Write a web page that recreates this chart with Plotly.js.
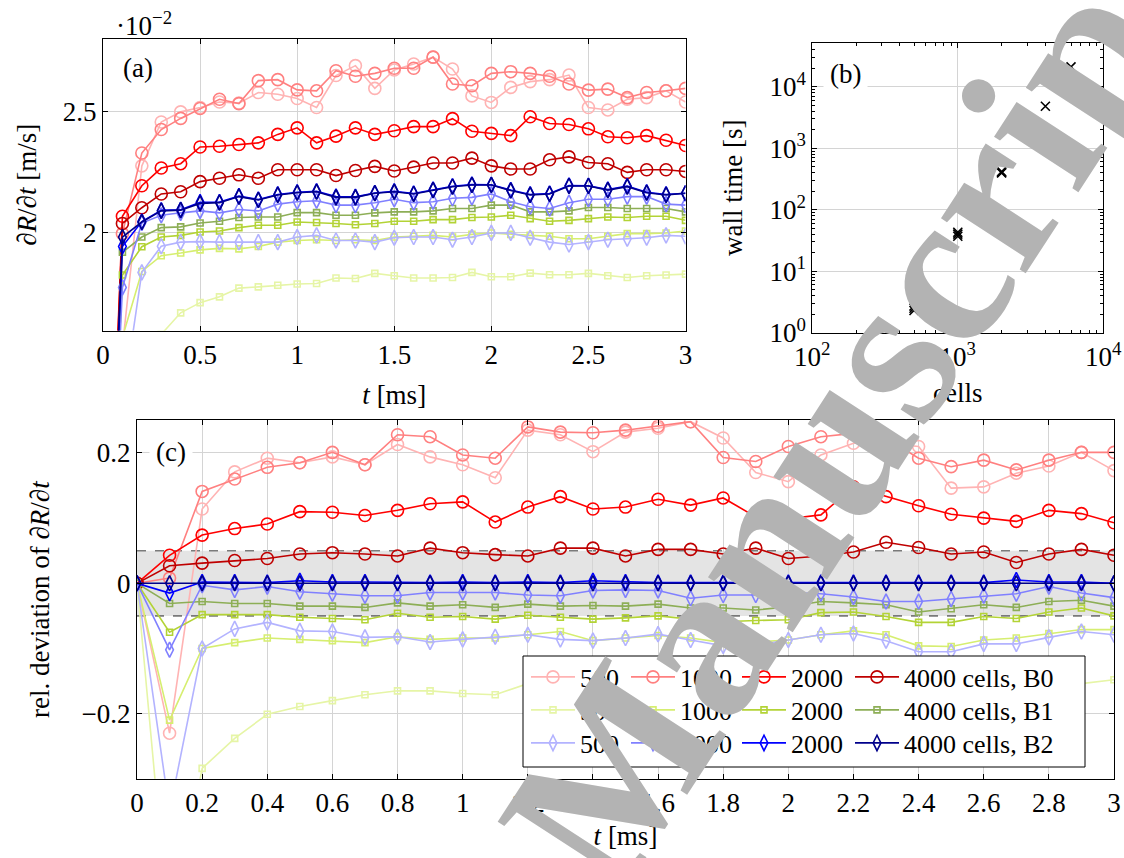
<!DOCTYPE html>
<html><head><meta charset="utf-8">
<script src="https://cdn.plot.ly/plotly-3.0.1.min.js"></script>
<style>html,body{margin:0;padding:0;background:#fff;}#chart{width:1124px;height:858px;}</style>
</head><body><div id="chart"></div>
<script>
// ---------- data ----------
const t = [0,0.1,0.2,0.3,0.4,0.5,0.6,0.7,0.8,0.9,1.0,1.1,1.2,1.3,1.4,1.5,1.6,1.7,1.8,1.9,2.0,2.1,2.2,2.3,2.4,2.5,2.6,2.7,2.8,2.9,3.0];

// panel (a): dR/dt in units of 1e-2 m/s
const B0_500_a  = [0,1.527,2.276,2.457,2.499,2.517,2.540,2.535,2.579,2.572,2.554,2.517,2.649,2.690,2.596,2.672,2.697,2.725,2.676,2.565,2.538,2.600,2.624,2.632,2.651,2.517,2.507,2.551,2.558,2.586,2.540];
const B0_1000_a = [0,1.996,2.329,2.426,2.472,2.513,2.551,2.533,2.628,2.632,2.590,2.586,2.669,2.646,2.658,2.679,2.679,2.725,2.614,2.607,2.658,2.665,2.658,2.646,2.614,2.589,2.593,2.558,2.579,2.586,2.596];
const B0_2000_a = [0,2.068,2.194,2.267,2.285,2.354,2.357,2.364,2.371,2.406,2.433,2.371,2.399,2.433,2.406,2.421,2.438,2.438,2.471,2.419,2.410,2.401,2.479,2.451,2.447,2.429,2.396,2.392,2.401,2.382,2.360];
const B0_4000_a = [0,2.038,2.103,2.160,2.169,2.211,2.225,2.239,2.225,2.260,2.260,2.260,2.236,2.257,2.274,2.255,2.271,2.288,2.288,2.308,2.276,2.263,2.263,2.301,2.313,2.290,2.285,2.249,2.260,2.260,2.253];
const B1_500_a  = [0,0.900,1.460,1.580,1.669,1.711,1.735,1.771,1.776,1.783,1.788,1.790,1.813,1.811,1.832,1.822,1.813,1.813,1.815,1.836,1.818,1.818,1.833,1.826,1.826,1.832,1.822,1.815,1.822,1.825,1.829];
const B1_1000_a = [0,1.567,1.840,1.905,1.916,1.929,1.935,1.933,1.943,1.961,1.968,1.971,1.968,1.971,1.968,1.982,1.985,1.989,1.982,1.993,1.999,1.993,1.989,1.985,1.975,1.975,1.985,1.996,1.996,1.999,2.007];
const B1_2000_a = [0,1.825,1.942,1.982,1.989,2.003,2.007,2.021,2.031,2.031,2.044,2.042,2.038,2.033,2.038,2.047,2.047,2.054,2.054,2.063,2.065,2.072,2.058,2.047,2.051,2.058,2.065,2.063,2.068,2.068,2.051];
const B1_4000_a = [0,1.919,1.982,2.021,2.024,2.040,2.047,2.063,2.065,2.065,2.083,2.083,2.072,2.072,2.082,2.086,2.086,2.090,2.100,2.100,2.114,2.114,2.086,2.086,2.090,2.104,2.104,2.100,2.100,2.100,2.086];
const B2_500_a  = [0,1.290,1.836,1.944,1.961,1.963,1.961,1.961,1.961,1.961,1.982,1.989,1.968,1.968,1.961,1.979,1.982,1.982,1.971,1.982,1.999,1.999,1.979,1.961,1.951,1.961,1.971,1.975,1.979,1.989,1.985];
const B2_1000_a = [0,1.774,2.040,2.072,2.082,2.090,2.082,2.096,2.090,2.118,2.128,2.132,2.114,2.114,2.124,2.138,2.124,2.128,2.142,2.146,2.160,2.128,2.107,2.100,2.124,2.138,2.138,2.149,2.149,2.118,2.114];
const B2_2000_a = [0,1.943,2.046,2.092,2.095,2.126,2.127,2.151,2.137,2.158,2.167,2.171,2.149,2.148,2.164,2.171,2.162,2.178,2.192,2.199,2.198,2.176,2.158,2.162,2.195,2.194,2.178,2.193,2.167,2.158,2.163];
const B2_4000_a = [0,1.982,2.044,2.090,2.093,2.121,2.124,2.149,2.135,2.156,2.165,2.169,2.146,2.146,2.163,2.169,2.160,2.176,2.190,2.197,2.197,2.174,2.156,2.160,2.193,2.193,2.176,2.190,2.165,2.156,2.163];

// panel (c): relative deviation
const B0_500_c  = [0,-0.230,0.114,0.171,0.192,0.185,0.194,0.182,0.213,0.194,0.182,0.162,0.235,0.228,0.202,0.232,0.238,0.248,0.223,0.170,0.156,0.197,0.215,0.215,0.210,0.146,0.148,0.169,0.180,0.201,0.173];
const B0_1000_c = [0,0.008,0.141,0.160,0.178,0.185,0.201,0.182,0.228,0.225,0.197,0.192,0.240,0.232,0.231,0.235,0.241,0.248,0.193,0.187,0.210,0.225,0.230,0.223,0.192,0.179,0.189,0.174,0.189,0.201,0.201];
const B0_2000_c = [0,0.043,0.074,0.084,0.091,0.110,0.109,0.104,0.112,0.122,0.125,0.094,0.117,0.133,0.114,0.117,0.129,0.120,0.131,0.102,0.099,0.105,0.148,0.133,0.119,0.106,0.100,0.095,0.112,0.107,0.093];
const B0_4000_c = [0,0.027,0.031,0.035,0.038,0.045,0.047,0.045,0.042,0.054,0.047,0.044,0.042,0.054,0.054,0.042,0.052,0.052,0.045,0.054,0.038,0.042,0.048,0.063,0.055,0.045,0.048,0.032,0.045,0.052,0.043];
const B1_500_c  = [0,-0.545,-0.284,-0.238,-0.201,-0.189,-0.180,-0.171,-0.165,-0.165,-0.169,-0.171,-0.154,-0.156,-0.153,-0.160,-0.161,-0.167,-0.171,-0.164,-0.173,-0.164,-0.150,-0.155,-0.167,-0.165,-0.163,-0.171,-0.158,-0.154,-0.148];
const B1_1000_c = [0,-0.210,-0.100,-0.091,-0.084,-0.086,-0.088,-0.091,-0.082,-0.086,-0.084,-0.084,-0.079,-0.074,-0.088,-0.084,-0.080,-0.084,-0.091,-0.090,-0.087,-0.079,-0.073,-0.079,-0.096,-0.097,-0.087,-0.084,-0.077,-0.071,-0.071];
const B1_2000_c = [0,-0.075,-0.048,-0.048,-0.048,-0.052,-0.054,-0.056,-0.046,-0.052,-0.051,-0.055,-0.049,-0.052,-0.055,-0.053,-0.050,-0.055,-0.059,-0.057,-0.056,-0.045,-0.044,-0.051,-0.060,-0.060,-0.051,-0.054,-0.044,-0.038,-0.050];
const B1_4000_c = [0,-0.031,-0.028,-0.031,-0.031,-0.035,-0.035,-0.037,-0.030,-0.035,-0.033,-0.037,-0.032,-0.035,-0.034,-0.035,-0.032,-0.038,-0.038,-0.041,-0.036,-0.028,-0.030,-0.033,-0.044,-0.039,-0.033,-0.037,-0.028,-0.026,-0.035];
const B2_500_c  = [0,-0.350,-0.100,-0.070,-0.060,-0.073,-0.074,-0.083,-0.082,-0.090,-0.086,-0.082,-0.079,-0.086,-0.088,-0.084,-0.078,-0.087,-0.096,-0.095,-0.087,-0.079,-0.077,-0.088,-0.105,-0.105,-0.093,-0.093,-0.083,-0.074,-0.079];
const B2_1000_c = [0,-0.102,-0.003,-0.010,-0.005,-0.013,-0.016,-0.019,-0.019,-0.014,-0.014,-0.014,-0.018,-0.019,-0.011,-0.010,-0.011,-0.023,-0.018,-0.018,-0.014,-0.016,-0.021,-0.028,-0.028,-0.024,-0.019,-0.016,-0.005,-0.015,-0.022];
const B2_2000_c = [0,-0.015,0.002,0.002,0.001,0.004,0.002,0.002,0.001,0.001,0.002,0.001,0.002,0.001,0.004,0.002,0.001,0.001,0.001,0.001,0.001,0.001,0.001,0.001,0.001,0.001,0.001,0.005,0.002,0.002,0.000];
const B2_4000_c = [0,0,0,0,0,0,0,0,0,0,0,0,0,0,0,0,0,0,0,0,0,0,0,0,0,0,0,0,0,0,0];

// panel (b): wall time vs cells
const cells    = [500,500,500,1000,1000,1000,2000,2000,2000,4000,6000];
const wallTime = [2.3,2.5,2.7,37,40,43,395,405,415,4800,21000];

// tick labels
const aXticks = [0,0.5,1,1.5,2,2.5,3];
const aXtext  = ['0','0.5','1','1.5','2','2.5','3'];
const aYticks = [2,2.5];
const aYtext  = ['2','2.5'];
const bXticks = [100,1000,10000];
const bXtext  = ['10<sup>2</sup>','10<sup>3</sup>','10<sup>4</sup>'];
const bYticks = [1,10,100,1000,10000];
const bYtext  = ['10<sup>0</sup>','10<sup>1</sup>','10<sup>2</sup>','10<sup>3</sup>','10<sup>4</sup>'];
const cXticks = [0,0.2,0.4,0.6,0.8,1,1.2,1.4,1.6,1.8,2,2.2,2.4,2.6,2.8,3];
const cXtext  = ['0','0.2','0.4','0.6','0.8','1','1.2','1.4','1.6','1.8','2','2.2','2.4','2.6','2.8','3'];
const cYticks = [-0.2,0,0.2];
const cYtext  = ['\u22120.2','0','0.2'];

// ---------- styling ----------
const FONT = 'Liberation Serif, Times New Roman, serif';
const FS = 27;
const LFS = 26;
const W = 1124, H = 858;
const px = v => v / W, py = v => 1 - v / H;

const series = [
  {name:'500',  color:'#ffb3b3', sym:'circle-open', a:B0_500_a,  c:B0_500_c},
  {name:'1000', color:'#ff8080', sym:'circle-open', a:B0_1000_a, c:B0_1000_c},
  {name:'2000', color:'#ff0000', sym:'circle-open', a:B0_2000_a, c:B0_2000_c},
  {name:'4000 cells, B0', color:'#bf0000', sym:'circle-open', a:B0_4000_a, c:B0_4000_c},
  {name:'500',  color:'#e6f5a6', sym:'square-open', a:B1_500_a,  c:B1_500_c},
  {name:'1000', color:'#d6ee70', sym:'square-open', a:B1_1000_a, c:B1_1000_c},
  {name:'2000', color:'#b3d336', sym:'square-open', a:B1_2000_a, c:B1_2000_c},
  {name:'4000 cells, B1', color:'#8dae56', sym:'square-open', a:B1_4000_a, c:B1_4000_c},
  {name:'500',  color:'#b3b3ff', sym:'diamond-tall-open', a:B2_500_a,  c:B2_500_c},
  {name:'1000', color:'#8080ff', sym:'diamond-tall-open', a:B2_1000_a, c:B2_1000_c},
  {name:'2000', color:'#0000ff', sym:'diamond-tall-open', a:B2_2000_a, c:B2_2000_c},
  {name:'4000 cells, B2', color:'#00008b', sym:'diamond-tall-open', a:B2_4000_a, c:B2_4000_c}
];
function msize(sym){ return sym==='circle-open'?12:(sym==='square-open'?6:11); }

// legend grid: one small legend per entry (4 columns x 3 rows)
const legColX = [526, 626, 737, 850];
const legRowY = [677, 710, 743];

const traces = [];
series.forEach(s => {
  traces.push({x:t, y:s.a, xaxis:'x', yaxis:'y', type:'scatter', mode:'lines+markers', showlegend:false,
    line:{color:s.color, width:1.6}, marker:{symbol:s.sym, size:msize(s.sym), color:s.color, line:{width:1.6}}, hoverinfo:'skip'});
});
const legends = {};
series.forEach((s, i) => {
  const id = i === 0 ? 'legend' : 'legend' + (i + 1);
  const col = i % 4, row = Math.floor(i / 4);
  legends[id] = {x:px(legColX[col]), y:py(legRowY[row]), xanchor:'left', yanchor:'middle', bgcolor:'rgba(0,0,0,0)',
    borderwidth:0, itemwidth:44, font:{family:FONT, size:LFS, color:'black'}};
  traces.push({x:t, y:s.c, xaxis:'x3', yaxis:'y3', type:'scatter', mode:'lines+markers', name:s.name, legend:id,
    line:{color:s.color, width:1.6}, marker:{symbol:s.sym, size:msize(s.sym), color:s.color, line:{width:1.6}}, hoverinfo:'skip'});
});
traces.push({x:cells, y:wallTime, xaxis:'x2', yaxis:'y2', type:'scatter', mode:'markers', showlegend:false,
  marker:{symbol:'x-thin', size:9, color:'black', line:{width:1.6, color:'black'}}, hoverinfo:'skip'});

const tickfont = {family:FONT, size:FS, color:'black'};
const titlefont = {family:FONT, size:FS, color:'black'};
const baseAx = {showline:true, linecolor:'black', linewidth:1, mirror:'ticks', ticks:'inside', ticklen:5,
  tickcolor:'black', showgrid:true, gridcolor:'#d4d4d4', gridwidth:1, zeroline:false, tickfont:tickfont, tickmode:'array', automargin:false};

const layout = Object.assign({
  width:W, height:H, margin:{l:0,r:0,t:0,b:0}, paper_bgcolor:'white', plot_bgcolor:'white',
  font:{family:FONT, size:FS, color:'black'},
  xaxis: Object.assign({}, baseAx, {domain:[px(103), px(685.5)], range:[0,3], anchor:'y', tickvals:aXticks, ticktext:aXtext,
    title:{text:'<i>t</i> [ms]', font:titlefont, standoff:16}}),
  yaxis: Object.assign({}, baseAx, {domain:[py(330.5), py(39)], range:[1.596,2.80], anchor:'x', tickvals:aYticks, ticktext:aYtext,
    title:{text:'\u2202<i>R</i>/\u2202<i>t</i> [m/s]', font:titlefont, standoff:18}}),
  xaxis2: Object.assign({}, baseAx, {type:'log', domain:[px(812.3), px(1103.3)], range:[2,4], anchor:'y2', tickvals:bXticks, ticktext:bXtext,
    minor:{ticks:'inside', ticklen:3, tickcolor:'black', showgrid:false, dtick:'D1'},
    title:{text:'cells', font:titlefont, standoff:12}}),
  yaxis2: Object.assign({}, baseAx, {type:'log', domain:[py(332.7), py(42.7)], range:[0,4.715], anchor:'x2', tickvals:bYticks, ticktext:bYtext,
    minor:{ticks:'inside', ticklen:3, tickcolor:'black', showgrid:false, dtick:'D1'},
    title:{text:'wall time [s]', font:titlefont, standoff:18}}),
  xaxis3: Object.assign({}, baseAx, {domain:[px(137), px(1114)], range:[0,3], anchor:'y3', tickvals:cXticks, ticktext:cXtext,
    title:{text:'<i>t</i> [ms]', font:titlefont, standoff:8}}),
  yaxis3: Object.assign({}, baseAx, {domain:[py(778.8), py(420.4)], range:[-0.3,0.25], anchor:'x3', tickvals:cYticks, ticktext:cYtext,
    title:{text:'rel. deviation of \u2202<i>R</i>/\u2202<i>t</i>', font:titlefont, standoff:24}}),
  shapes: [
    {type:'rect', xref:'x3', yref:'y3', x0:0, x1:3, y0:-0.05, y1:0.05, fillcolor:'rgba(170,170,170,0.32)', line:{width:0}, layer:'below'},
    {type:'line', xref:'x3', yref:'y3', x0:0, x1:3, y0:0.05, y1:0.05, line:{color:'#7a7a7a', width:1.6, dash:'dash'}, layer:'below'},
    {type:'line', xref:'x3', yref:'y3', x0:0, x1:3, y0:-0.05, y1:-0.05, line:{color:'#7a7a7a', width:1.6, dash:'dash'}, layer:'below'},
    {type:'rect', xref:'paper', yref:'paper', x0:px(523), x1:px(1085), y0:py(767), y1:py(656), fillcolor:'white', line:{color:'black', width:1}, layer:'above'}
  ],
  annotations: [
    {text:'\u00b710<sup>\u22122</sup>', xref:'paper', yref:'paper', x:px(144), y:py(24), xanchor:'center', yanchor:'middle', showarrow:false, font:titlefont},
    {text:'(a)', xref:'paper', yref:'paper', x:px(138), y:py(68), xanchor:'center', yanchor:'middle', showarrow:false, bgcolor:'white', borderpad:4, font:titlefont},
    {text:'(b)', xref:'paper', yref:'paper', x:px(845), y:py(74), xanchor:'center', yanchor:'middle', showarrow:false, bgcolor:'white', borderpad:6, font:titlefont},
    {text:'(c)', xref:'paper', yref:'paper', x:px(171), y:py(452), xanchor:'center', yanchor:'middle', showarrow:false, bgcolor:'white', borderpad:6, font:titlefont},
    {text:'Manuscript', xref:'paper', yref:'paper', x:px(854), y:py(402), xanchor:'center', yanchor:'middle', showarrow:false, textangle:-57,
      font:{family:FONT, size:220, color:'#b3b3b3', weight:'bold'}}
  ]
}, legends);

Plotly.newPlot('chart', traces, layout, {staticPlot:true, displayModeBar:false});
</script></body></html>
